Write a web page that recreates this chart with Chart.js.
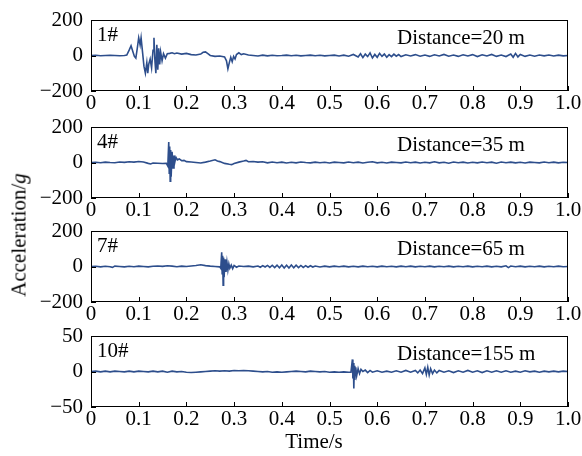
<!DOCTYPE html>
<html>
<head>
<meta charset="utf-8">
<script src="https://cdn.jsdelivr.net/npm/chart.js@4"></script>
<style>
  body { margin: 0; background: #fff; width: 582px; height: 456px; position: relative; overflow: hidden;
         font-family: 'Liberation Serif', 'Times New Roman', serif; color: #000; }
  .panel { position: absolute; left: 0; width: 582px; height: 109px; }
  #ytitle { position: absolute; left: 19px; top: 235px; transform: translate(-50%, -50%) rotate(-90deg);
            font-size: 21px; white-space: nowrap; }
  #xtitle { position: absolute; left: 314px; top: 441px; transform: translate(-50%, -50%); font-size: 21px; }
</style>
</head>
<body>
<div class="panel" style="top:8px"><canvas id="c1" width="582" height="109"></canvas></div>
<div class="panel" style="top:115px"><canvas id="c2" width="582" height="109"></canvas></div>
<div class="panel" style="top:219px"><canvas id="c3" width="582" height="109"></canvas></div>
<div class="panel" style="top:324px"><canvas id="c4" width="582" height="109"></canvas></div>
<div id="ytitle">Acceleration/<i>g</i></div>
<div id="xtitle">Time/s</div>
<script>
// [time (s), acceleration (g)]
const trace1 = [[0,0],[0.01,1],[0.02,-1],[0.03,0],[0.04,1],[0.05,0],[0.06,-1],[0.07,0],[0.075,2],[0.08,30],[0.084,55],[0.088,20],[0.091,-5],[0.094,-15],[0.097,40],[0.1,100],[0.103,60],[0.105,100],[0.108,20],[0.111,-60],[0.114,-100],[0.117,-40],[0.119,-100],[0.121,-50],[0.124,-20],[0.127,-70],[0.13,30],[0.132,100],[0.134,-30],[0.136,-100],[0.138,60],[0.14,-80],[0.142,40],[0.144,-50],[0.146,20],[0.149,-30],[0.152,10],[0.156,-15],[0.16,10],[0.165,12],[0.17,15],[0.175,10],[0.18,14],[0.19,8],[0.2,12],[0.21,5],[0.22,3],[0.23,8],[0.235,18],[0.24,20],[0.245,10],[0.25,0],[0.26,-5],[0.27,-3],[0.28,-8],[0.284,-30],[0.287,-75],[0.29,-40],[0.293,-10],[0.296,-35],[0.299,-5],[0.302,-20],[0.305,5],[0.31,15],[0.315,5],[0.32,10],[0.33,3],[0.34,0],[0.35,-3],[0.36,2],[0.37,-2],[0.38,1],[0.39,-1],[0.4,0],[0.41,2],[0.42,-1],[0.43,1],[0.44,-2],[0.45,0],[0.46,2],[0.47,-1],[0.48,1],[0.49,-2],[0.5,0],[0.51,2],[0.52,-3],[0.53,2],[0.54,-4],[0.55,6],[0.56,-8],[0.565,10],[0.57,-12],[0.575,8],[0.58,-6],[0.585,15],[0.59,-14],[0.595,6],[0.6,-10],[0.605,12],[0.61,-5],[0.615,8],[0.62,-10],[0.625,5],[0.63,-6],[0.635,8],[0.64,-4],[0.645,5],[0.65,-6],[0.66,4],[0.67,-3],[0.68,5],[0.69,-4],[0.7,3],[0.71,-5],[0.72,4],[0.73,-3],[0.74,6],[0.75,-4],[0.76,3],[0.77,-5],[0.78,4],[0.79,-3],[0.8,5],[0.81,-6],[0.82,4],[0.83,-3],[0.84,6],[0.85,-5],[0.86,3],[0.87,-6],[0.88,8],[0.885,-10],[0.89,12],[0.895,-8],[0.9,6],[0.91,-5],[0.92,3],[0.93,-4],[0.94,3],[0.95,-2],[0.96,3],[0.97,-3],[0.98,2],[0.99,-2],[1,0]];

const trace2 = [[0,0],[0.01,1],[0.02,-1],[0.03,2],[0.04,0],[0.05,-1],[0.06,3],[0.07,1],[0.08,4],[0.09,2],[0.1,6],[0.11,3],[0.12,-5],[0.125,-8],[0.13,-3],[0.14,-4],[0.15,-6],[0.158,-5],[0.161,-20],[0.163,115],[0.164,-60],[0.165,90],[0.166,-105],[0.167,70],[0.168,-80],[0.17,60],[0.172,-30],[0.174,40],[0.176,5],[0.178,30],[0.181,15],[0.185,20],[0.19,10],[0.195,12],[0.2,5],[0.21,3],[0.22,0],[0.23,-3],[0.24,2],[0.25,8],[0.26,15],[0.265,8],[0.27,5],[0.28,-5],[0.29,-10],[0.295,-12],[0.3,-6],[0.31,2],[0.32,8],[0.325,12],[0.33,4],[0.34,6],[0.35,2],[0.36,4],[0.37,-2],[0.38,3],[0.39,-1],[0.4,2],[0.41,-3],[0.42,1],[0.43,-2],[0.44,3],[0.45,0],[0.46,-2],[0.47,2],[0.48,-1],[0.49,1],[0.5,-3],[0.51,2],[0.52,0],[0.53,-2],[0.54,3],[0.55,-1],[0.56,2],[0.57,-3],[0.58,1],[0.59,4],[0.6,-2],[0.61,1],[0.62,-3],[0.63,2],[0.64,0],[0.65,-2],[0.66,3],[0.67,-1],[0.68,2],[0.69,-3],[0.7,1],[0.71,-2],[0.72,4],[0.73,-2],[0.74,1],[0.75,-4],[0.76,3],[0.77,-1],[0.78,2],[0.79,-3],[0.8,1],[0.81,-2],[0.82,3],[0.83,-1],[0.84,2],[0.85,-4],[0.86,3],[0.87,-1],[0.88,2],[0.89,-2],[0.9,1],[0.91,-3],[0.92,2],[0.93,0],[0.94,-2],[0.95,3],[0.96,-1],[0.97,2],[0.98,-2],[0.99,1],[1,0]];

const trace3 = [[0,0],[0.01,1],[0.02,-2],[0.03,1],[0.04,-1],[0.045,-5],[0.05,2],[0.06,0],[0.07,-2],[0.08,1],[0.09,-1],[0.1,2],[0.11,0],[0.12,-2],[0.13,1],[0.14,3],[0.15,1],[0.16,4],[0.17,2],[0.18,-1],[0.19,2],[0.2,0],[0.21,3],[0.22,6],[0.23,10],[0.24,5],[0.25,2],[0.26,0],[0.27,-2],[0.272,-10],[0.274,80],[0.275,-40],[0.276,60],[0.277,-105],[0.278,50],[0.279,-60],[0.281,40],[0.283,-30],[0.285,25],[0.287,-20],[0.289,15],[0.291,-10],[0.294,8],[0.297,-12],[0.3,6],[0.305,-4],[0.31,3],[0.32,0],[0.33,2],[0.34,-2],[0.35,3],[0.355,-4],[0.36,5],[0.365,-3],[0.37,6],[0.375,-5],[0.38,7],[0.385,-6],[0.39,8],[0.395,-7],[0.4,8],[0.405,-8],[0.41,7],[0.415,-8],[0.42,8],[0.425,-7],[0.43,7],[0.435,-6],[0.44,6],[0.445,-5],[0.45,5],[0.455,-4],[0.46,4],[0.465,-3],[0.47,3],[0.48,-3],[0.49,2],[0.5,-2],[0.51,2],[0.52,-1],[0.53,2],[0.54,-2],[0.55,1],[0.56,-2],[0.57,2],[0.58,-1],[0.59,1],[0.6,-2],[0.61,2],[0.62,-1],[0.63,1],[0.64,-2],[0.65,2],[0.66,-1],[0.67,2],[0.68,-2],[0.69,1],[0.7,-1],[0.71,2],[0.72,-2],[0.73,1],[0.74,-1],[0.75,2],[0.76,-2],[0.77,1],[0.78,-1],[0.79,2],[0.8,-2],[0.81,1],[0.82,-1],[0.83,2],[0.84,-2],[0.85,1],[0.86,-2],[0.87,4],[0.875,-6],[0.88,3],[0.89,-1],[0.9,2],[0.91,-2],[0.92,1],[0.93,-1],[0.94,2],[0.95,-2],[0.96,1],[0.97,-1],[0.98,2],[0.99,-1],[1,0]];

const trace4 = [[0,0],[0.01,0.5],[0.02,-0.5],[0.03,0.5],[0.04,-0.5],[0.05,0.5],[0.06,0],[0.07,-0.5],[0.08,0.5],[0.09,-0.5],[0.1,0.5],[0.11,0],[0.12,-0.5],[0.13,0.5],[0.14,-0.5],[0.15,0.5],[0.16,-1],[0.17,0.5],[0.18,-0.5],[0.19,0],[0.2,-1],[0.21,-1.5],[0.22,-1],[0.23,-0.5],[0.24,0],[0.25,0.5],[0.26,1],[0.27,0.5],[0.28,1],[0.29,0.5],[0.3,1.5],[0.31,1],[0.32,1.5],[0.33,1],[0.34,0.5],[0.35,0],[0.36,-0.5],[0.37,0],[0.38,-1],[0.39,-0.5],[0.4,-1],[0.41,-0.5],[0.42,0],[0.43,0.5],[0.44,0],[0.45,-0.5],[0.46,0.5],[0.47,0],[0.48,-0.5],[0.49,0],[0.5,-1],[0.51,-0.5],[0.52,-1],[0.53,-0.5],[0.54,-1],[0.545,-1],[0.548,17],[0.549,-10],[0.55,12],[0.551,-24],[0.552,8],[0.553,-12],[0.555,6],[0.557,-6],[0.56,4],[0.563,-3],[0.566,3],[0.57,0],[0.575,2],[0.58,-1.5],[0.585,1.5],[0.59,-1],[0.6,1],[0.61,-1],[0.62,0.5],[0.63,-1],[0.64,1],[0.65,-1],[0.66,1.5],[0.67,-1],[0.68,1.5],[0.685,-2],[0.69,2],[0.695,-3],[0.7,5],[0.703,-4],[0.706,6],[0.709,-5],[0.712,4],[0.716,-3],[0.72,2],[0.725,-2],[0.73,1.5],[0.74,-1],[0.75,1],[0.76,-1.5],[0.77,1],[0.78,-1],[0.79,1.5],[0.8,-1],[0.81,1],[0.82,-1.5],[0.83,1],[0.84,-1],[0.85,1],[0.86,-1],[0.87,1],[0.88,-1],[0.89,0.5],[0.9,-1],[0.91,1],[0.92,-0.5],[0.93,0.5],[0.94,-1],[0.95,0.5],[0.96,-0.5],[0.97,0.5],[0.98,-0.5],[0.99,0.5],[1,0]];

const gauges = ['1#', '4#', '7#', '10#'];
const distances = ['Distance=20 m', 'Distance=35 m', 'Distance=65 m', 'Distance=155 m'];
const yLimits = [200, 200, 200, 50];
const traces = [trace1, trace2, trace3, trace4];

Chart.defaults.font.family = "'Liberation Serif', 'Times New Roman', serif";
Chart.defaults.font.size = 21;
Chart.defaults.color = '#000';

// box round the plot, inward tick marks and the two labels inside
const framePlugin = {
  id: 'frame',
  afterDraw(chart, args, opts) {
    const { ctx, chartArea: a, scales } = chart;
    ctx.save();
    ctx.strokeStyle = '#000';
    ctx.lineWidth = 1;
    ctx.strokeRect(a.left + 0.5, a.top + 0.5, a.right - a.left - 1, a.bottom - a.top - 1);
    ctx.beginPath();
    scales.x.ticks.forEach(t => {
      const px = Math.round(scales.x.getPixelForValue(t.value)) + 0.5;
      ctx.moveTo(px, a.bottom);
      ctx.lineTo(px, a.bottom - 5);
    });
    scales.y.ticks.forEach(t => {
      const py = Math.round(scales.y.getPixelForValue(t.value)) + 0.5;
      ctx.moveTo(a.left, py);
      ctx.lineTo(a.left + 5, py);
    });
    ctx.stroke();
    ctx.fillStyle = '#000';
    ctx.font = "21px 'Liberation Serif'";
    ctx.textBaseline = 'middle';
    ctx.fillText(opts.tag, a.left + 6, a.top + 15);
    ctx.fillText(opts.dist, 397, a.top + 18);
    ctx.restore();
  }
};

traces.forEach((trace, i) => {
  const lim = yLimits[i];
  new Chart(document.getElementById('c' + (i + 1)), {
    type: 'line',
    data: {
      datasets: [{
        data: trace.map(([x, y]) => ({ x, y })),
        borderColor: '#2d4e8c',
        borderWidth: 1.6,
        pointRadius: 0,
        tension: 0
      }]
    },
    options: {
      responsive: false,
      animation: false,
      layout: { padding: { top: 12, right: 14, left: 0, bottom: 0 } },
      plugins: {
        legend: { display: false },
        tooltip: { enabled: false },
        frame: { tag: gauges[i], dist: distances[i] }
      },
      scales: {
        x: {
          type: 'linear',
          min: 0,
          max: 1,
          grid: { display: false, drawTicks: false },
          border: { display: false },
          afterFit: s => { s.height = 26; },
          ticks: {
            stepSize: 0.1,
            autoSkip: false,
            maxRotation: 0,
            padding: 0,
            callback: v => v === 0 ? '0' : v.toFixed(1)
          }
        },
        y: {
          min: -lim,
          max: lim,
          grid: { display: false, drawTicks: false },
          border: { display: false },
          afterFit: s => { s.width = 91; s.paddingTop = 12; s.paddingBottom = 12; },
          ticks: {
            stepSize: lim,
            padding: 8,
            callback: v => String(v).replace('-', '\u2212')
          }
        }
      }
    },
    plugins: [framePlugin]
  });
});
</script>
</body>
</html>
